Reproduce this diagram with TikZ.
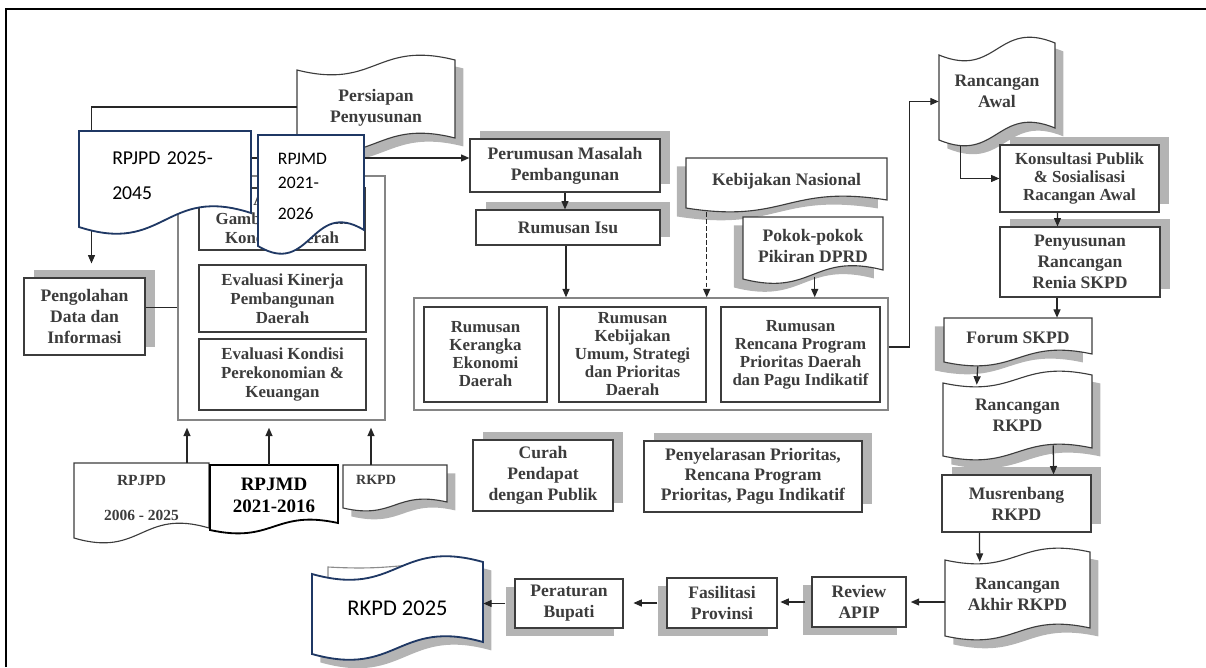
\documentclass[tikz,border=0pt]{standalone}
\usepackage{fontspec}
\setmainfont{Liberation Serif}
\newfontfamily\calibri{Carlito}
\usetikzlibrary{calc,fit,arrows.meta,shadows}

\definecolor{ink}{HTML}{3C3C3C}
\definecolor{shadowgray}{HTML}{B4B4B4}
\definecolor{navy}{HTML}{1F3864}
\definecolor{rim}{HTML}{858585}

\tikzset{
  box/.style={draw=ink, line width=0.8pt, fill=white, inner sep=0pt},
  grpbox/.style={draw=rim, line width=1pt, inner sep=0pt},
  txt/.style={align=center, text=ink, inner sep=0pt, font=\bfseries\fontsize{12.5}{15}\selectfont},
  subtxt/.style={txt, font=\bfseries\fontsize{12}{13.5}\selectfont},
  docline/.style={draw=ink, line width=0.8pt, fill=white},
  navybox/.style={draw=navy, line width=1.3pt, fill=white},
  shUR/.style={drop shadow={shadow xshift=7pt, shadow yshift=6pt, opacity=1, fill=shadowgray}},
  shDL/.style={drop shadow={shadow xshift=-6.5pt, shadow yshift=-6pt, opacity=1, fill=shadowgray}},
  shDR/.style={drop shadow={shadow xshift=6pt, shadow yshift=-6pt, opacity=1, fill=shadowgray}},
  link/.style={draw=black!85, line width=0.9pt},
  arr/.style={link, -{Triangle[length=6pt, width=5pt]}},
}

% document shape with a wavy bottom
% #1 name, #2 top left, #3 bottom right, #4 drop of the wave, #5 path style, #6 text style, #7 text
\newcommand\docshape[7]{%
  \coordinate (#1-a) at (#2);
  \coordinate (#1-b) at (#3);
  \coordinate (#1-m) at ($(#1-a |- #1-b)!.5!(#1-b)$);
  \coordinate (#1-c) at ($(#1-b)+(0,#4/2)$);
  \draw[#5] (#1-a) -- (#1-b |- #1-a) -- (#1-b)
    .. controls ($(#1-m)+(0,-2*#4)$) and ($(#1-m)+(0,3*#4)$) .. ($(#1-a |- #1-b)+(0,#4)$) -- cycle;
  \node[inner sep=0pt, fit=(#1-a)(#1-c)] (#1) {};
  \node[txt, #6] at (#1) {#7};
}

% punched tape shape, wavy top and bottom
\newcommand\tapeshape[7]{%
  \coordinate (#1-a) at (#2);
  \coordinate (#1-b) at (#3);
  \coordinate (#1-t) at ($(#1-a)!.5!(#1-b |- #1-a)$);
  \coordinate (#1-m) at ($(#1-a |- #1-b)!.5!(#1-b)$);
  \coordinate (#1-c) at ($(#1-b)+(0,#4)$);
  \draw[#5] ($(#1-a)+(0,#4)$)
    .. controls ($(#1-t)+(0,3*#4)$) and ($(#1-t)+(0,-2*#4)$) .. (#1-b |- #1-a) -- (#1-b)
    .. controls ($(#1-m)+(0,-2*#4)$) and ($(#1-m)+(0,3*#4)$) .. ($(#1-a |- #1-b)+(0,#4)$) -- cycle;
  \node[inner sep=0pt, fit=(#1-a)(#1-c)] (#1) {};
  \node[txt, #6] at (#1) {#7};
}

\begin{document}
\begin{tikzpicture}[x=0.025cm, y=-0.025cm]
\useasboundingbox (0,0) rectangle (1206,667);

% Frame
\draw[black, line width=1.3pt] (6,667) -- (6,9) -- (1206,9);

% Persiapan
\tapeshape{persiapan}{297,60}{455,138}{10}{docline, shDR}{yshift=-3pt}{Persiapan\\Penyusunan}

% Left group
\node[box, shUR, fit={(24,278) (145,355)}] (pengolahan) {};
\node[txt] at (pengolahan) {Pengolahan\\Data dan\\Informasi};
\node[grpbox, fit={(178,176) (385,420)}] (grpL) {};
\node[box, fit={(199,188) (365,250)}] (gambaran) {};
\node[subtxt] at (gambaran) {Analisis\\Gambaran Umum\\Kondisi Daerah};
\node[box, fit={(199,265) (366,332)}] (kinerja) {};
\node[subtxt] at (kinerja) {Evaluasi Kinerja\\Pembangunan\\Daerah};
\node[box, fit={(199,339) (366,410)}] (kondisi) {};
\node[subtxt] at (kondisi) {Evaluasi Kondisi\\Perekonomian \&\\Keuangan};

% Middle
\node[box, shUR, fit={(470,139) (660,192)}] (perumusan) {};
\node[txt] at (perumusan) {Perumusan Masalah\\Pembangunan};
\node[box, shUR, fit={(476,210) (660,245)}] (isu) {};
\node[txt] at (isu) {Rumusan Isu};
\docshape{kebnas}{686,158}{887,200}{8}{docline, shDL}{}{Kebijakan Nasional}
\docshape{pokok}{743,217}{883,270}{9}{docline, shDL}{}{Pokok-pokok\\Pikiran DPRD}
\node[grpbox, fit={(414,298) (888,410)}] (grpR) {};
\node[box, fit={(424,307) (547,402)}] (kerangka) {};
\node[subtxt, font=\bfseries\fontsize{12}{12.8}\selectfont] at (kerangka) {Rumusan\\Kerangka\\Ekonomi\\Daerah};
\node[box, fit={(559,307) (706,402)}] (kebijakan) {};
\node[subtxt, font=\bfseries\fontsize{12}{12.8}\selectfont] at (kebijakan) {Rumusan\\Kebijakan\\Umum, Strategi\\dan Prioritas\\Daerah};
\node[box, fit={(721,307) (880,402)}] (rencana) {};
\node[subtxt, font=\bfseries\fontsize{12}{12.8}\selectfont] at (rencana) {Rumusan\\Rencana Program\\Prioritas Daerah\\dan Pagu Indikatif};
\node[box, shUR, fit={(473,440) (613,511)}] (curah) {};
\node[txt] at (curah) {Curah\\Pendapat\\dengan Publik};
\node[box, shUR, fit={(644,441) (862,512)}] (selaras) {};
\node[txt, font=\bfseries\fontsize{12.5}{14}\selectfont] at (selaras) {Penyelarasan Prioritas,\\Rencana Program\\Prioritas, Pagu Indikatif};

% Right column
\tapeshape{awal}{939,43}{1055,128}{12}{docline, shDR}{}{Rancangan\\Awal}
\node[box, shUR, fit={(1000,145) (1159,212)}] (konsultasi) {};
\node[txt, font=\bfseries\fontsize{12}{12.5}\selectfont] at (konsultasi) {Konsultasi Publik\\\& Sosialisasi\\Racangan Awal};
\node[box, shUR, fit={(1000,227) (1160,297)}] (penyusunan) {};
\node[txt] at (penyusunan) {Penyusunan\\Rancangan\\Renia SKPD};
\docshape{forum}{944,318}{1092,354}{8}{docline, shDL}{}{Forum SKPD}
\tapeshape{rrkpd}{943,375}{1092,448}{8}{docline, shDR}{}{Rancangan\\RKPD}
\node[box, shUR, fit={(942,475) (1091,532)}] (musrenbang) {};
\node[txt] at (musrenbang) {Musrenbang\\RKPD};
\tapeshape{akhir}{945,552}{1090,628}{8}{docline, shDR}{}{Rancangan\\Akhir RKPD}

% Bottom row
\node[box, shDL, fit={(812,577) (906,627)}] (review) {};
\node[txt] at (review) {Review\\APIP};
\node[box, shDL, fit={(667,578) (777,628)}] (fasilitasi) {};
\node[txt] at (fasilitasi) {Fasilitasi\\Provinsi};
\node[box, shDL, fit={(515,579) (623,628)}] (peraturan) {};
\node[txt] at (peraturan) {Peraturan\\Bupati};
\tapeshape{rkpdlama}{328,565}{470,640}{2}{draw=black!45, line width=0.8pt, fill=white}{}{}
\tapeshape{rkpd25}{312,562}{483,642}{12}{navybox, shDR}{text=black, font=\calibri\fontsize{16}{19}\selectfont}{RKPD 2025}

% Source documents
\docshape{rpjpd}{74,463}{209,528}{10}{docline}{font=\bfseries\fontsize{11}{25}\selectfont}{RPJPD\\2006 - 2025}
\docshape{rpjmd}{210,465}{338,523}{7}{draw=black, line width=1.3pt, fill=white}{text=black, font=\bfseries\fontsize{13.5}{15.6}\selectfont}{RPJMD\\2021-2016}
\docshape{rkpdk}{343,465}{447,502}{6}{docline, shDR}{font=\bfseries\fontsize{10}{12}\selectfont, xshift=-13.5pt, yshift=3.6pt}{RKPD}

% Connectors
\coordinate (kiri) at (230,158);
\draw[arr] ($(persiapan-a)+(0,47)$) -| ($(pengolahan.north)+(7,-14)$);
\draw[link] ($(pengolahan.east)+(0,-9)$) -- ($(pengolahan.east -| grpL.west)+(0,-9)$);
\draw[arr] (kiri) -- (kiri -| perumusan.west);
\draw[arr] (perumusan.south) -- (perumusan.south |- isu.north);
\draw[arr] ($(isu.south)+(-2,0)$) -- ($(isu.south |- grpR.north)+(-2,0)$);
\draw[arr, dash pattern=on 3pt off 2pt] ($(kebnas.south west)+(21,8)$) -- ($(kebnas.south west |- grpR.north)+(21,0)$);
\draw[arr] ($(pokok.south west)+(72,2)$) -- ($(pokok.south west |- grpR.north)+(72,0)$);
\draw[arr] ($(grpR.east)+(0,-7)$) -- ++(21,0) |- ($(awal.west)+(0,10)$);
\draw[arr] ($(awal.south west)+(22,6)$) |- (konsultasi.west);
\draw[arr] ($(konsultasi.south)+(-22,0)$) -- ($(penyusunan.north)+(-22.5,0)$);
\draw[arr] ($(penyusunan.south)+(-23,0)$) -- ($(forum.north)+(39,0)$);
\draw[arr] ($(forum.south west)+(34,8)$) -- ($(rrkpd.north west)+(34,10)$);
\draw[arr] ($(rrkpd.south east)+(-39,-11)$) -- ($(musrenbang.north east)+(-38,0)$);
\draw[arr] ($(musrenbang.south west)+(38,0)$) -- ($(akhir.north west)+(35,10)$);
\draw[arr, shorten >=3pt] (akhir.west |- review.east) -- (review.east);
\draw[arr, shorten >=2pt] ($(review.west)+(-6,0)$) -- (review.west -| fasilitasi.east);
\draw[arr, shorten >=7pt] ($(fasilitasi.west)+(-9,0)$) -- (fasilitasi.west -| peraturan.east);
\draw[arr] ($(peraturan.west)+(-9,0)$) -- (peraturan.west -| rkpd25.east);
\draw[arr, shorten >=5pt] ($(rpjpd-a)+(113,0)$) -- ($(rpjpd-a |- grpL.south)+(113,0)$);
\draw[arr, shorten >=5pt] ($(rpjmd-a)+(59,0)$) -- ($(rpjmd-a |- grpL.south)+(59,0)$);
\draw[arr, shorten >=5pt] ($(rkpdk-a)+(28,0)$) -- ($(rkpdk-a |- grpL.south)+(28,0)$);

% Overlays
\docshape{rpjpdbaru}{79,131}{251,213}{14}{navybox}{align=left, text=black, text width=75pt, font=\calibri\fontsize{14}{25}\selectfont}{RPJPD 2025-\\2045}
\docshape{rpjmdbaru}{258,135}{364,230}{16}{navybox}{align=left, text=black, text width=47pt, font=\calibri\fontsize{12.5}{17}\selectfont}{RPJMD\\2021-\\[5pt]2026}
\end{tikzpicture}
\end{document}
